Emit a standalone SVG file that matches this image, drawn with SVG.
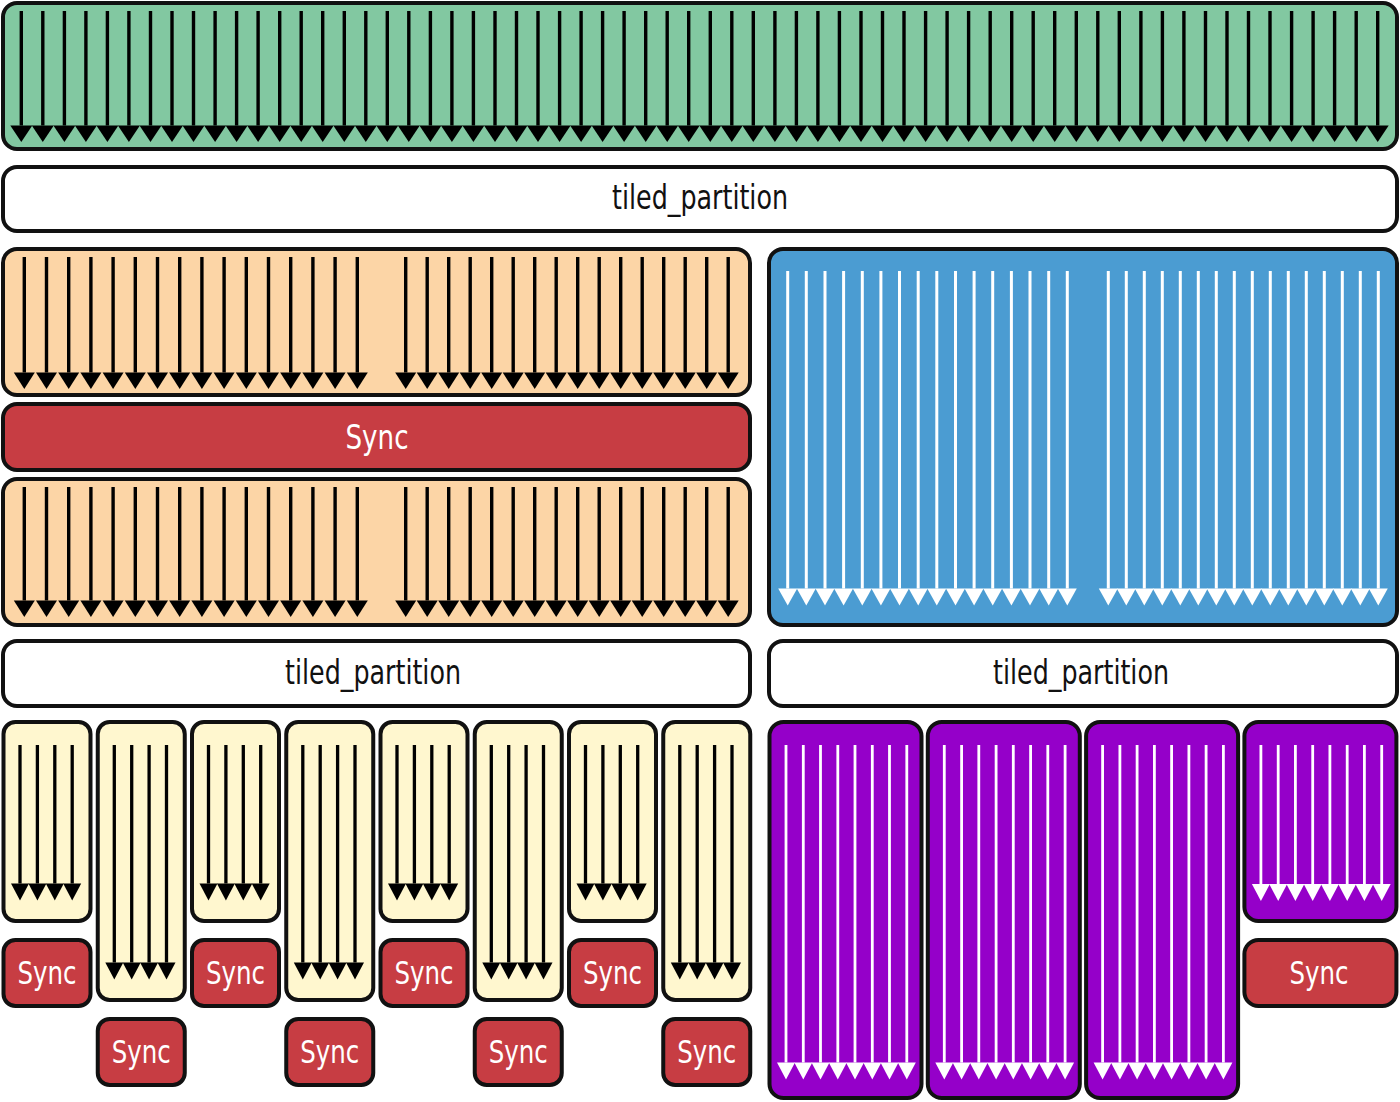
<svg xmlns="http://www.w3.org/2000/svg" width="1400" height="1102" viewBox="0 0 1400 1102">
<defs>
<style>
.box{stroke:#111;stroke-width:4}
.green{fill:#82c8a1}
.white{fill:#fff}
.peach{fill:#fcd5a6}
.red{fill:#c73d43}
.blue{fill:#4b9cd2}
.yellow{fill:#fff7cf}
.purple{fill:#9500c9}
.lb{stroke:#000;stroke-width:3.4;fill:none}
.lw{stroke:#fff;stroke-width:3;fill:none}
.lbt{stroke:#000;stroke-width:3.3;fill:none}
.lwt{stroke:#fff;stroke-width:2.8;fill:none}
text{font-family:"DejaVu Sans Condensed","Liberation Sans Narrow","Roboto Condensed","Liberation Sans",sans-serif;text-anchor:middle}
.t1{font-size:34px;fill:#111}
.t2{font-size:34px;fill:#fff}
.t3{font-size:32px;fill:#fff}
</style>
<marker id="hg" markerUnits="userSpaceOnUse" markerWidth="22" markerHeight="17" refX="11" refY="0" orient="0" overflow="visible"><path d="M0,0H22L11,16.5Z" fill="#000"/></marker>
<marker id="ho" markerUnits="userSpaceOnUse" markerWidth="21" markerHeight="17" refX="10.5" refY="0" orient="0" overflow="visible"><path d="M0,0H21L10.5,16.5Z" fill="#000"/></marker>
<marker id="hb" markerUnits="userSpaceOnUse" markerWidth="19" markerHeight="17" refX="9.5" refY="0" orient="0" overflow="visible"><path d="M0,0H19L9.5,17Z" fill="#fff"/></marker>
<marker id="hy" markerUnits="userSpaceOnUse" markerWidth="18" markerHeight="17" refX="9" refY="0" orient="0" overflow="visible"><path d="M0,0H18L9,17Z" fill="#000"/></marker>
<marker id="hp" markerUnits="userSpaceOnUse" markerWidth="18" markerHeight="17" refX="9" refY="0" orient="0" overflow="visible"><path d="M0,0H18L9,17Z" fill="#fff"/></marker>
</defs>
<rect width="1400" height="1102" fill="#fff"/>

<g id="warp-all">
<rect class="box green" x="3" y="3" width="1394" height="146" rx="14"/>
<g marker-end="url(#hg)" class="lb">
<path d="M21.3 11V125.5"/><path d="M42.8 11V125.5"/><path d="M64.4 11V125.5"/><path d="M85.9 11V125.5"/><path d="M107.4 11V125.5"/><path d="M128.9 11V125.5"/><path d="M150.5 11V125.5"/><path d="M172 11V125.5"/>
<path d="M193.5 11V125.5"/><path d="M215.1 11V125.5"/><path d="M236.6 11V125.5"/><path d="M258.1 11V125.5"/><path d="M279.7 11V125.5"/><path d="M301.2 11V125.5"/><path d="M322.7 11V125.5"/><path d="M344.3 11V125.5"/>
<path d="M365.8 11V125.5"/><path d="M387.3 11V125.5"/><path d="M408.8 11V125.5"/><path d="M430.4 11V125.5"/><path d="M451.9 11V125.5"/><path d="M473.4 11V125.5"/><path d="M495 11V125.5"/><path d="M516.5 11V125.5"/>
<path d="M538 11V125.5"/><path d="M559.6 11V125.5"/><path d="M581.1 11V125.5"/><path d="M602.6 11V125.5"/><path d="M624.1 11V125.5"/><path d="M645.7 11V125.5"/><path d="M667.2 11V125.5"/><path d="M688.7 11V125.5"/>
<path d="M710.3 11V125.5"/><path d="M731.8 11V125.5"/><path d="M753.3 11V125.5"/><path d="M774.9 11V125.5"/><path d="M796.4 11V125.5"/><path d="M817.9 11V125.5"/><path d="M839.4 11V125.5"/><path d="M861 11V125.5"/>
<path d="M882.5 11V125.5"/><path d="M904 11V125.5"/><path d="M925.6 11V125.5"/><path d="M947.1 11V125.5"/><path d="M968.6 11V125.5"/><path d="M990.2 11V125.5"/><path d="M1011.7 11V125.5"/><path d="M1033.2 11V125.5"/>
<path d="M1054.7 11V125.5"/><path d="M1076.3 11V125.5"/><path d="M1097.8 11V125.5"/><path d="M1119.3 11V125.5"/><path d="M1140.9 11V125.5"/><path d="M1162.4 11V125.5"/><path d="M1183.9 11V125.5"/><path d="M1205.5 11V125.5"/>
<path d="M1227 11V125.5"/><path d="M1248.5 11V125.5"/><path d="M1270 11V125.5"/><path d="M1291.6 11V125.5"/><path d="M1313.1 11V125.5"/><path d="M1334.6 11V125.5"/><path d="M1356.2 11V125.5"/><path d="M1377.7 11V125.5"/>
</g>
</g>

<g id="tiled-top">
<rect class="box white" x="3" y="167" width="1394" height="64" rx="14"/>
<text class="t1" x="700" y="209" textLength="176" lengthAdjust="spacingAndGlyphs">tiled_partition</text>
</g>

<g id="peach-top">
<rect class="box peach" x="3" y="249" width="747" height="146" rx="14"/>
<g marker-end="url(#ho)" class="lb">
<path d="M24.3 257V372.5"/><path d="M46.5 257V372.5"/><path d="M68.7 257V372.5"/><path d="M90.9 257V372.5"/><path d="M113.1 257V372.5"/><path d="M135.3 257V372.5"/><path d="M157.5 257V372.5"/><path d="M179.7 257V372.5"/>
<path d="M201.9 257V372.5"/><path d="M224.1 257V372.5"/><path d="M246.3 257V372.5"/><path d="M268.5 257V372.5"/><path d="M290.7 257V372.5"/><path d="M312.9 257V372.5"/><path d="M335.1 257V372.5"/><path d="M357.3 257V372.5"/>
<path d="M405.7 257V372.5"/><path d="M427.2 257V372.5"/><path d="M448.7 257V372.5"/><path d="M470.2 257V372.5"/><path d="M491.7 257V372.5"/><path d="M513.2 257V372.5"/><path d="M534.7 257V372.5"/><path d="M556.2 257V372.5"/>
<path d="M577.7 257V372.5"/><path d="M599.2 257V372.5"/><path d="M620.7 257V372.5"/><path d="M642.2 257V372.5"/><path d="M663.7 257V372.5"/><path d="M685.2 257V372.5"/><path d="M706.7 257V372.5"/><path d="M728.2 257V372.5"/>
</g>
</g>

<g id="sync-bar">
<rect class="box red" x="3" y="404" width="747" height="66" rx="14"/>
<text class="t2" x="377" y="449" textLength="63" lengthAdjust="spacingAndGlyphs">Sync</text>
</g>

<g id="peach-bottom">
<rect class="box peach" x="3" y="479" width="747" height="146" rx="14"/>
<g marker-end="url(#ho)" class="lb">
<path d="M24.3 487V600.5"/><path d="M46.5 487V600.5"/><path d="M68.7 487V600.5"/><path d="M90.9 487V600.5"/><path d="M113.1 487V600.5"/><path d="M135.3 487V600.5"/><path d="M157.5 487V600.5"/><path d="M179.7 487V600.5"/>
<path d="M201.9 487V600.5"/><path d="M224.1 487V600.5"/><path d="M246.3 487V600.5"/><path d="M268.5 487V600.5"/><path d="M290.7 487V600.5"/><path d="M312.9 487V600.5"/><path d="M335.1 487V600.5"/><path d="M357.3 487V600.5"/>
<path d="M405.7 487V600.5"/><path d="M427.2 487V600.5"/><path d="M448.7 487V600.5"/><path d="M470.2 487V600.5"/><path d="M491.7 487V600.5"/><path d="M513.2 487V600.5"/><path d="M534.7 487V600.5"/><path d="M556.2 487V600.5"/>
<path d="M577.7 487V600.5"/><path d="M599.2 487V600.5"/><path d="M620.7 487V600.5"/><path d="M642.2 487V600.5"/><path d="M663.7 487V600.5"/><path d="M685.2 487V600.5"/><path d="M706.7 487V600.5"/><path d="M728.2 487V600.5"/>
</g>
</g>

<g id="blue-block">
<rect class="box blue" x="769" y="249" width="628" height="376" rx="14"/>
<g marker-end="url(#hb)" class="lw">
<path d="M787.7 271V588.5"/><path d="M806.3 271V588.5"/><path d="M825 271V588.5"/><path d="M843.6 271V588.5"/><path d="M862.3 271V588.5"/><path d="M880.9 271V588.5"/><path d="M899.5 271V588.5"/><path d="M918.2 271V588.5"/>
<path d="M936.8 271V588.5"/><path d="M955.5 271V588.5"/><path d="M974.1 271V588.5"/><path d="M992.7 271V588.5"/><path d="M1011.4 271V588.5"/><path d="M1030 271V588.5"/><path d="M1048.7 271V588.5"/><path d="M1067.3 271V588.5"/>
<path d="M1108.3 271V588.5"/><path d="M1126.3 271V588.5"/><path d="M1144.3 271V588.5"/><path d="M1162.3 271V588.5"/><path d="M1180.3 271V588.5"/><path d="M1198.3 271V588.5"/><path d="M1216.3 271V588.5"/><path d="M1234.3 271V588.5"/>
<path d="M1252.3 271V588.5"/><path d="M1270.3 271V588.5"/><path d="M1288.3 271V588.5"/><path d="M1306.3 271V588.5"/><path d="M1324.3 271V588.5"/><path d="M1342.3 271V588.5"/><path d="M1360.3 271V588.5"/><path d="M1378.3 271V588.5"/>
</g>
</g>

<g id="tiled-left">
<rect class="box white" x="3" y="641" width="747" height="65" rx="14"/>
<text class="t1" x="373" y="684" textLength="176" lengthAdjust="spacingAndGlyphs">tiled_partition</text>
</g>

<g id="tiled-right">
<rect class="box white" x="769" y="641" width="628" height="65" rx="14"/>
<text class="t1" x="1081" y="684" textLength="176" lengthAdjust="spacingAndGlyphs">tiled_partition</text>
</g>

<g id="yellow-1">
<rect class="box yellow" x="3.5" y="722" width="87" height="199" rx="12"/>
<g marker-end="url(#hy)" class="lbt"><path d="M20 745V883.5"/><path d="M37.4 745V883.5"/><path d="M54.8 745V883.5"/><path d="M72.2 745V883.5"/></g>
</g>
<g id="yellow-2">
<rect class="box yellow" x="97.75" y="722" width="87" height="278" rx="12"/>
<g marker-end="url(#hy)" class="lbt"><path d="M114.3 745V962.5"/><path d="M131.7 745V962.5"/><path d="M149.1 745V962.5"/><path d="M166.5 745V962.5"/></g>
</g>
<g id="yellow-3">
<rect class="box yellow" x="192" y="722" width="87" height="199" rx="12"/>
<g marker-end="url(#hy)" class="lbt"><path d="M208.5 745V883.5"/><path d="M225.9 745V883.5"/><path d="M243.3 745V883.5"/><path d="M260.7 745V883.5"/></g>
</g>
<g id="yellow-4">
<rect class="box yellow" x="286.25" y="722" width="87" height="278" rx="12"/>
<g marker-end="url(#hy)" class="lbt"><path d="M302.8 745V962.5"/><path d="M320.2 745V962.5"/><path d="M337.6 745V962.5"/><path d="M355 745V962.5"/></g>
</g>
<g id="yellow-5">
<rect class="box yellow" x="380.5" y="722" width="87" height="199" rx="12"/>
<g marker-end="url(#hy)" class="lbt"><path d="M397 745V883.5"/><path d="M414.4 745V883.5"/><path d="M431.8 745V883.5"/><path d="M449.2 745V883.5"/></g>
</g>
<g id="yellow-6">
<rect class="box yellow" x="474.75" y="722" width="87" height="278" rx="12"/>
<g marker-end="url(#hy)" class="lbt"><path d="M491.3 745V962.5"/><path d="M508.7 745V962.5"/><path d="M526.1 745V962.5"/><path d="M543.5 745V962.5"/></g>
</g>
<g id="yellow-7">
<rect class="box yellow" x="569" y="722" width="87" height="199" rx="12"/>
<g marker-end="url(#hy)" class="lbt"><path d="M585.5 745V883.5"/><path d="M602.9 745V883.5"/><path d="M620.3 745V883.5"/><path d="M637.7 745V883.5"/></g>
</g>
<g id="yellow-8">
<rect class="box yellow" x="663.25" y="722" width="87" height="278" rx="12"/>
<g marker-end="url(#hy)" class="lbt"><path d="M679.8 745V962.5"/><path d="M697.2 745V962.5"/><path d="M714.6 745V962.5"/><path d="M732 745V962.5"/></g>
</g>

<g id="sync-1"><rect class="box red" x="3.5" y="940" width="87" height="66" rx="12"/><text class="t3" x="47" y="984" textLength="59" lengthAdjust="spacingAndGlyphs">Sync</text></g>
<g id="sync-2"><rect class="box red" x="97.75" y="1019" width="87" height="66" rx="12"/><text class="t3" x="141.25" y="1063" textLength="59" lengthAdjust="spacingAndGlyphs">Sync</text></g>
<g id="sync-3"><rect class="box red" x="192" y="940" width="87" height="66" rx="12"/><text class="t3" x="235.5" y="984" textLength="59" lengthAdjust="spacingAndGlyphs">Sync</text></g>
<g id="sync-4"><rect class="box red" x="286.25" y="1019" width="87" height="66" rx="12"/><text class="t3" x="329.75" y="1063" textLength="59" lengthAdjust="spacingAndGlyphs">Sync</text></g>
<g id="sync-5"><rect class="box red" x="380.5" y="940" width="87" height="66" rx="12"/><text class="t3" x="424" y="984" textLength="59" lengthAdjust="spacingAndGlyphs">Sync</text></g>
<g id="sync-6"><rect class="box red" x="474.75" y="1019" width="87" height="66" rx="12"/><text class="t3" x="518.25" y="1063" textLength="59" lengthAdjust="spacingAndGlyphs">Sync</text></g>
<g id="sync-7"><rect class="box red" x="569" y="940" width="87" height="66" rx="12"/><text class="t3" x="612.5" y="984" textLength="59" lengthAdjust="spacingAndGlyphs">Sync</text></g>
<g id="sync-8"><rect class="box red" x="663.25" y="1019" width="87" height="66" rx="12"/><text class="t3" x="706.75" y="1063" textLength="59" lengthAdjust="spacingAndGlyphs">Sync</text></g>

<g id="purple-1">
<rect class="box purple" x="769.5" y="722" width="152" height="376" rx="14"/>
<g marker-end="url(#hp)" class="lwt"><path d="M786 745V1062.5"/><path d="M803.3 745V1062.5"/><path d="M820.5 745V1062.5"/><path d="M837.8 745V1062.5"/><path d="M855 745V1062.5"/><path d="M872.3 745V1062.5"/><path d="M889.5 745V1062.5"/><path d="M906.8 745V1062.5"/></g>
</g>
<g id="purple-2">
<rect class="box purple" x="927.8" y="722" width="152" height="376" rx="14"/>
<g marker-end="url(#hp)" class="lwt"><path d="M944.3 745V1062.5"/><path d="M961.6 745V1062.5"/><path d="M978.8 745V1062.5"/><path d="M996.1 745V1062.5"/><path d="M1013.3 745V1062.5"/><path d="M1030.6 745V1062.5"/><path d="M1047.8 745V1062.5"/><path d="M1065.1 745V1062.5"/></g>
</g>
<g id="purple-3">
<rect class="box purple" x="1086.1" y="722" width="152" height="376" rx="14"/>
<g marker-end="url(#hp)" class="lwt"><path d="M1102.6 745V1062.5"/><path d="M1119.9 745V1062.5"/><path d="M1137.1 745V1062.5"/><path d="M1154.4 745V1062.5"/><path d="M1171.6 745V1062.5"/><path d="M1188.9 745V1062.5"/><path d="M1206.1 745V1062.5"/><path d="M1223.4 745V1062.5"/></g>
</g>
<g id="purple-4">
<rect class="box purple" x="1244.4" y="722" width="152" height="199" rx="14"/>
<g marker-end="url(#hp)" class="lwt"><path d="M1260.9 745V884"/><path d="M1278.2 745V884"/><path d="M1295.4 745V884"/><path d="M1312.7 745V884"/><path d="M1329.9 745V884"/><path d="M1347.2 745V884"/><path d="M1364.4 745V884"/><path d="M1381.7 745V884"/></g>
</g>
<g id="sync-purple"><rect class="box red" x="1244.4" y="940" width="152" height="66" rx="14"/><text class="t3" x="1319" y="984" textLength="59" lengthAdjust="spacingAndGlyphs">Sync</text></g>

<g id="connectors"></g>
</svg>
